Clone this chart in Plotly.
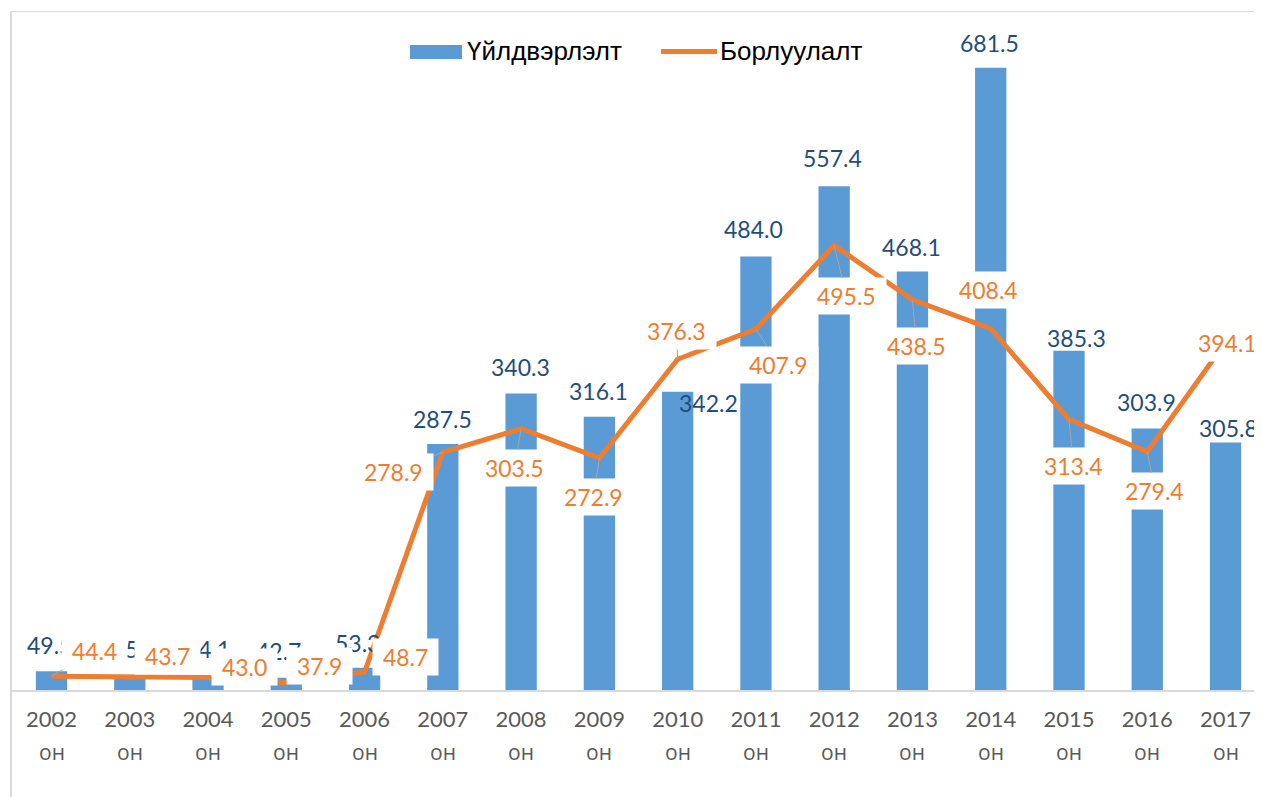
import plotly.graph_objects as go

# ---------------- data ----------------
years = ["2002", "2003", "2004", "2005", "2006", "2007", "2008", "2009",
         "2010", "2011", "2012", "2013", "2014", "2015", "2016", "2017"]
production = [49.5, 45.6, 44.1, 42.7, 53.3, 287.5, 340.3, 316.1,
              342.2, 484.0, 557.4, 468.1, 681.5, 385.3, 303.9, 305.8]
sales = [44.4, 43.7, 43.0, 37.9, 48.7, 278.9, 303.5, 272.9,
         376.3, 407.9, 495.5, 438.5, 408.4, 313.4, 279.4, 394.1]
year_suffix = "он"
name_prod = "Үйлдвэрлэлт"
name_sales = "Борлуулалт"

# ---------------- style / label placement (pixel offsets) ----------------
BAR_C = "#5B9BD5"
LINE_C = "#ED7D31"
BLUE_TXT = "#1F4E79"
GRAY_TXT = "#595959"
BORDER = "#D9D9D9"
LEADER = "#A6A6A6"

prod_dx = [-2, 5, -1, -8, -7, 0, -1, -1, 31, -2, -2, -1, -1, 7.5, -1, 3]
prod_dy = [-26, -26, -27, -27, -25, -25, -27, -26, 11, -27, -28, -25, -25, -13, -26, 1]
prod_bg = [False] * 15 + [True]

sales_dx = [42.5, 37.7, 36, 32.7, 41.4, -48.9, -7.1, -5.9, -1.2, 22.6, 12.3, 4, -2.7, 4.5, 7.7, 1.5]
sales_dy = [-25, -21, -11, -16, -14.6, 19.7, 39.5, 39, -28.2, 35.5, 51, 46, -38.6, 46.5, 39.5, 0.3]
sales_leader = [True, False, False, False, False, True, True, True,
                True, True, True, True, False, True, True, False]

OFF = 8            # page body margin of the html page
W, H = 1262, 797
ML, MR, MT, MB = 4, 8, 4, 115
PW, PH = W - ML - MR, H - MT - MB


def px2x(px):      # screen pixel -> paper x
    return (px - OFF - ML) / PW


def py2y(py):      # screen pixel -> paper y
    return (MT + PH - (py - OFF)) / PH


idx = list(range(len(years)))

fig = go.Figure()
fig.add_trace(go.Bar(x=years, y=production, name=name_prod,
                     marker=dict(color=BAR_C, line=dict(width=0)),
                     showlegend=False, hoverinfo="skip"))
fig.add_trace(go.Scatter(x=years, y=sales, name=name_sales, mode="lines",
                         line=dict(color=LINE_C, width=5),
                         showlegend=False, hoverinfo="skip"))

ann = []
LBL_FONT = "Lato, Carlito, Calibri, sans-serif"
LBL_SIZE = 23
for i, v in zip(idx, production):
    a = dict(x=i, y=v, xref="x", yref="y", text=f"{v:.1f}", showarrow=True,
             arrowcolor="rgba(0,0,0,0)", arrowhead=0, ax=prod_dx[i], ay=prod_dy[i],
             font=dict(family=LBL_FONT, size=LBL_SIZE, color=BLUE_TXT))
    if prod_bg[i]:
        a.update(bgcolor="white", borderpad=0)
    ann.append(a)

for i, v in zip(idx, sales):
    ann.append(dict(x=i, y=v, xref="x", yref="y",
                    text="\u00a0" + f"{v:.1f}" + "\u00a0", showarrow=True,
                    arrowcolor=LEADER if sales_leader[i] else "rgba(0,0,0,0)",
                    arrowwidth=1, arrowhead=0, standoff=0,
                    ax=sales_dx[i], ay=sales_dy[i], bgcolor="white", borderpad=4,
                    font=dict(family=LBL_FONT, size=LBL_SIZE, color=LINE_C)))

for i in idx:
    ann.append(dict(x=i, y=py2y(751.5), xref="x", yref="paper", text=year_suffix,
                    showarrow=False, yanchor="middle",
                    font=dict(family="Open Sans", size=21, color=GRAY_TXT)))

# custom legend
ann.append(dict(x=px2x(466), y=py2y(51.5), xref="paper", yref="paper", text=name_prod,
                showarrow=False, xanchor="left", yanchor="middle", borderpad=0,
                font=dict(family="Liberation Sans, Arial", size=26, color="black")))
ann.append(dict(x=px2x(719), y=py2y(51.5), xref="paper", yref="paper", text=name_sales,
                showarrow=False, xanchor="left", yanchor="middle", borderpad=0,
                font=dict(family="Liberation Sans, Arial", size=26, color="black")))

shapes = [
    dict(type="rect", xref="paper", yref="paper", x0=px2x(410), x1=px2x(462),
         y0=py2y(59), y1=py2y(45), fillcolor=BAR_C, line=dict(width=0)),
    dict(type="line", xref="paper", yref="paper", x0=px2x(661), x1=px2x(717),
         y0=py2y(51.5), y1=py2y(51.5), line=dict(color=LINE_C, width=5)),
    dict(type="line", xref="paper", yref="paper", x0=px2x(11), x1=px2x(11),
         y0=py2y(11), y1=py2y(810), line=dict(color=BORDER, width=2)),
    dict(type="line", xref="paper", yref="paper", x0=px2x(10), x1=px2x(1275),
         y0=py2y(11.5), y1=py2y(11.5), line=dict(color=BORDER, width=1)),
]

fig.update_layout(
    width=W, height=H,
    margin=dict(l=ML, r=MR, t=MT, b=MB, pad=0),
    paper_bgcolor="white", plot_bgcolor="white",
    bargap=0.6,
    showlegend=False,
    annotations=ann,
    shapes=shapes,
    xaxis=dict(type="category", range=[-0.5047, 15.466], showline=True,
               linecolor=BORDER, linewidth=2, showgrid=False, zeroline=False,
               ticks="", ticklabelstandoff=9,
               tickfont=dict(family=LBL_FONT, size=22, color=GRAY_TXT),
               fixedrange=True),
    yaxis=dict(range=[29.95, 739.9], visible=False, showgrid=False, zeroline=False,
               fixedrange=True),
)

fig.write_html("out.html")
